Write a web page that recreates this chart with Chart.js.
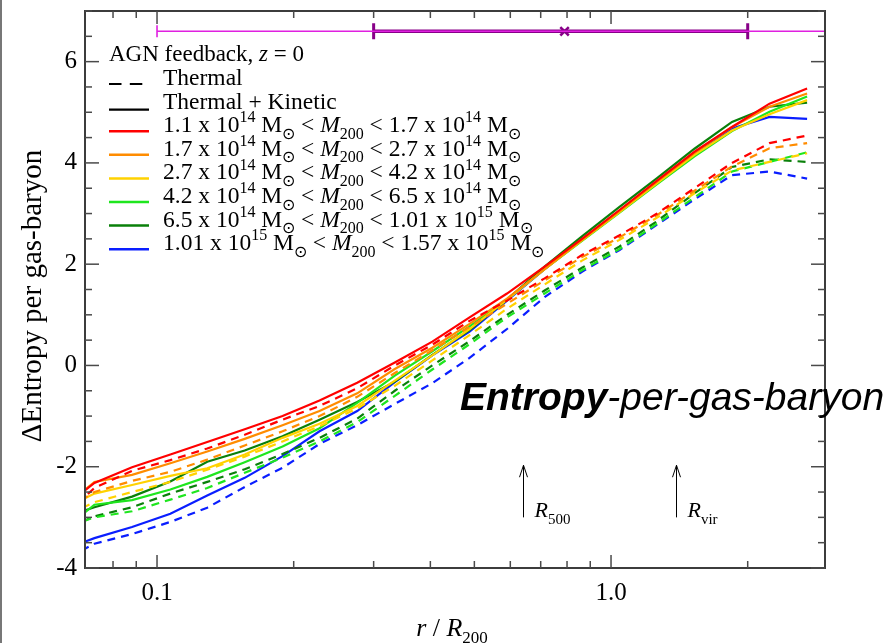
<!DOCTYPE html>
<html><head><meta charset="utf-8">
<script src="https://cdn.jsdelivr.net/npm/chart.js@4.4.1/dist/chart.umd.min.js"></script>
<style>html,body{margin:0;padding:0;background:#fff;}#wrap{width:893px;height:643px;position:relative;}canvas{display:block;}</style>
</head><body><div id="wrap"><canvas id="c" width="893" height="643"></canvas></div>
<script>
// ---- data ----
const radius = [0.0602,0.0728,0.0881,0.107,0.129,0.156,0.189,0.228,0.276,0.334,0.404,0.488,0.590,0.714,0.863,1.044,1.263,1.527,1.847,2.234,2.703];

// Thermal + Kinetic (solid)
const tkRed    = [-2.90,-2.32,-2.01,-1.76,-1.51,-1.26,-1.00,-0.69,-0.34,0.06,0.47,0.95,1.42,1.95,2.50,3.07,3.65,4.22,4.71,5.17,5.47];
const tkOrange = [-2.90,-2.30,-2.16,-1.93,-1.70,-1.45,-1.18,-0.90,-0.55,-0.07,0.35,0.82,1.32,1.90,2.48,3.05,3.63,4.20,4.71,5.11,5.37];
const tkYellow = [-2.90,-2.53,-2.36,-2.18,-2.03,-1.76,-1.43,-1.15,-0.80,-0.30,0.20,0.72,1.30,1.90,2.47,3.03,3.60,4.16,4.64,4.96,5.24];
const tkLime   = [-3.35,-2.75,-2.66,-2.45,-2.20,-1.91,-1.60,-1.24,-0.74,-0.20,0.28,0.77,1.30,1.90,2.46,3.02,3.58,4.13,4.63,5.01,5.31];
const tkGreen  = [-3.05,-2.80,-2.59,-2.29,-1.90,-1.68,-1.40,-1.07,-0.72,-0.32,0.21,0.70,1.30,1.95,2.55,3.13,3.70,4.28,4.81,5.11,5.19];
const tkBlue   = [-3.69,-3.41,-3.19,-2.93,-2.57,-2.22,-1.79,-1.30,-0.90,-0.33,0.20,0.67,1.28,1.90,2.48,3.05,3.62,4.18,4.68,4.91,4.87];

// Thermal only (dashed)
const thRed    = [-3.10,-2.42,-2.08,-1.87,-1.64,-1.37,-1.07,-0.80,-0.45,0.00,0.41,0.88,1.28,1.72,2.18,2.57,3.00,3.50,4.00,4.39,4.54];
const thOrange = [-2.95,-2.50,-2.28,-2.10,-1.86,-1.58,-1.30,-1.00,-0.62,-0.15,0.30,0.76,1.22,1.68,2.14,2.53,2.97,3.45,3.93,4.29,4.39];
const thYellow = [-3.05,-2.70,-2.50,-2.30,-2.06,-1.80,-1.50,-1.20,-0.85,-0.40,0.10,0.60,1.12,1.60,2.07,2.48,2.92,3.40,3.85,4.02,4.19];
const thLime   = [-3.25,-3.00,-2.88,-2.65,-2.42,-2.12,-1.82,-1.50,-1.12,-0.60,-0.08,0.42,0.95,1.42,1.88,2.30,2.80,3.32,3.83,4.02,4.21];
const thGreen  = [-3.30,-2.98,-2.80,-2.53,-2.30,-2.05,-1.75,-1.43,-1.05,-0.50,0.00,0.48,1.00,1.48,1.93,2.35,2.85,3.40,3.92,4.07,4.02];
const thBlue   = [-3.92,-3.52,-3.33,-3.09,-2.81,-2.40,-2.02,-1.55,-1.18,-0.76,-0.35,0.15,0.72,1.35,1.85,2.28,2.78,3.28,3.76,3.83,3.69];

// mass bins: [mantissa, exponent]
const binLow  = [['1.1',14],['1.7',14],['2.7',14],['4.2',14],['6.5',14],['1.01',15]];
const binHigh = [['1.7',14],['2.7',14],['4.2',14],['6.5',14],['1.01',15],['1.57',15]];

// axis ticks
const xRange = [0.0694, 2.96];
const xTickVals = [0.1, 1.0];
const xTickLabels = ['0.1', '1.0'];
const xMinorVals = [0.08,0.09,0.2,0.3,0.4,0.5,0.6,0.7,0.8,0.9,2];
const yTickVals = [-4,-2,0,2,4,6];
const yMinorStep = 0.5;

// top range bar
const barY = 6.6;
const thinRange = [0.1, 2.96];
const thickRange = [0.3, 2.0];
const barCenter = 0.79;

// R500 / Rvir markers
const markerR = [0.64, 1.39];
const markerSub = ['500', 'vir'];
const arrowY = [-3.0, -1.97];

// ---- styles ----
const colors = ['#ff0000', '#ff8c00', '#ffd200', '#1ee61e', '#0a800a', '#0a1eff'];
const tkSeries = [tkRed, tkOrange, tkYellow, tkLime, tkGreen, tkBlue];
const thSeries = [thRed, thOrange, thYellow, thLime, thGreen, thBlue];
const SERIF = '"Liberation Serif", "Times New Roman", serif';
const SANS = '"Liberation Sans", Arial, sans-serif';

const pts = arr => arr.map((v, i) => ({x: radius[i], y: v}));
const datasets = [];
thSeries.forEach((s, i) => datasets.push({data: pts(s), borderColor: colors[i], borderWidth: 2.2, borderDash: [8, 6], pointRadius: 0, tension: 0}));
tkSeries.forEach((s, i) => datasets.push({data: pts(s), borderColor: colors[i], borderWidth: 2.2, pointRadius: 0, tension: 0}));
datasets.push({data: [{x: thinRange[0], y: barY}, {x: thinRange[1], y: barY}], borderColor: '#e020e0', borderWidth: 1.6,
  pointStyle: 'line', pointRotation: 90, pointRadius: [6, 0], pointBorderColor: '#e020e0', pointBorderWidth: 1.6});
datasets.push({data: [{x: thickRange[0], y: barY}, {x: thickRange[1], y: barY}], borderColor: '#880088', borderWidth: 3.5,
  pointStyle: 'line', pointRotation: 90, pointRadius: 8, pointBorderColor: '#880088', pointBorderWidth: 3});
datasets.push({data: [{x: barCenter, y: barY}], showLine: false, borderColor: '#880088',
  pointStyle: 'crossRot', pointRadius: 6, pointBorderColor: '#880088', pointBorderWidth: 2.5});

function drawRich(ctx, x, y, parts, size) {
  for (const p of parts) {
    let fs = size, dy = 0;
    if (p.sup) { fs = Math.round(size * 0.66); dy = -size * 0.42; }
    if (p.sub) { fs = Math.round(size * 0.66); dy = size * 0.28; }
    ctx.font = (p.i ? 'italic ' : '') + fs + 'px ' + (p.f || SERIF);
    ctx.fillText(p.t, x, y + dy);
    x += ctx.measureText(p.t).width;
  }
  return x;
}
function richWidth(ctx, parts, size) {
  let w = 0;
  for (const p of parts) {
    let fs = (p.sup || p.sub) ? Math.round(size * 0.66) : size;
    ctx.font = (p.i ? 'italic ' : '') + fs + 'px ' + (p.f || SERIF);
    w += ctx.measureText(p.t).width;
  }
  return w;
}
function massParts(b) {
  return [{t: b[0] + ' x 10'}, {t: String(b[1]), sup: 1}, {t: ' M'}, {t: '\u2299', sub: 1}];
}

const overlay = {
  id: 'overlay',
  afterDraw(chart) {
    const {ctx, chartArea: a, scales: {x, y}} = chart;
    ctx.save();
    // frame
    ctx.strokeStyle = '#3c3c3c'; ctx.lineWidth = 2;
    ctx.strokeRect(a.left, a.top, a.right - a.left, a.bottom - a.top);
    // inward ticks
    ctx.lineWidth = 1.5; ctx.strokeStyle = '#4a4a4a';
    const seg = (x1, y1, x2, y2) => { ctx.beginPath(); ctx.moveTo(x1, y1); ctx.lineTo(x2, y2); ctx.stroke(); };
    xTickVals.concat(xMinorVals).forEach(v => {
      const px = x.getPixelForValue(v); const len = xTickVals.includes(v) ? 13 : 7;
      seg(px, a.bottom, px, a.bottom - len); seg(px, a.top, px, a.top + len);
    });
    for (let v = y.min; v <= y.max + 1e-9; v += yMinorStep) {
      const py = y.getPixelForValue(v); const len = yTickVals.includes(v) ? 14 : 7;
      seg(a.left, py, a.left + len, py); seg(a.right, py, a.right - len, py);
    }
    // left image edge line
    ctx.fillStyle = '#777'; ctx.fillRect(0, 0, 2, chart.height);
    ctx.fillStyle = '#000';
    ctx.textAlign = 'left'; ctx.textBaseline = 'alphabetic';
    // legend
    drawRich(ctx, 109, 61, [{t: 'AGN feedback, '}, {t: 'z', i: 1}, {t: ' = 0'}], 23);
    const rowY = i => 85 + 23.6 * i;
    ctx.strokeStyle = '#000'; ctx.lineWidth = 2.2;
    ctx.setLineDash([12.5, 8.3]); seg(109, rowY(0) - 1, 150, rowY(0) - 1); ctx.setLineDash([]);
    seg(109, rowY(1) + 1, 149, rowY(1) + 1);
    drawRich(ctx, 163, rowY(0), [{t: 'Thermal'}], 23.5);
    drawRich(ctx, 163, rowY(1), [{t: 'Thermal + Kinetic'}], 23.5);
    binLow.forEach((b, i) => {
      const yy = rowY(i + 2);
      ctx.strokeStyle = colors[i]; ctx.lineWidth = 2.5; seg(109, yy - 1, 149, yy - 1);
      ctx.fillStyle = '#000';
      const parts = massParts(b).concat([{t: ' < '}, {t: 'M', i: 1}, {t: '200', sub: 1}, {t: ' < '}], massParts(binHigh[i]));
      drawRich(ctx, 163, yy, parts, 23.5);
    });
    // R500 / Rvir arrows
    ctx.strokeStyle = '#000'; ctx.lineWidth = 1;
    markerR.forEach((r, i) => {
      const px = Math.round(x.getPixelForValue(r)) + 0.5;
      const y0 = y.getPixelForValue(arrowY[0]), y1 = y.getPixelForValue(arrowY[1]);
      seg(px, y0, px, y1);
      ctx.beginPath(); ctx.moveTo(px - 4, y1 + 12); ctx.lineTo(px, y1); ctx.lineTo(px + 4, y1 + 12); ctx.stroke();
      drawRich(ctx, px + 11, y0, [{t: 'R', i: 1}, {t: markerSub[i], sub: 1}], 22);
    });
    // big annotation text
    let tx = 460;
    ctx.font = 'italic bold 39px ' + SANS; ctx.fillText('Entropy', tx, 410);
    tx += ctx.measureText('Entropy').width;
    ctx.font = 'italic 39px ' + SANS; ctx.fillText('-per-gas-baryon', tx, 410);
    // axis titles
    const xt = [{t: 'r', i: 1}, {t: ' / '}, {t: 'R', i: 1}, {t: '200', sub: 1}];
    const w = richWidth(ctx, xt, 26);
    drawRich(ctx, 452 - w / 2, 636, xt, 26);
    ctx.save();
    ctx.translate(41, 296); ctx.rotate(-Math.PI / 2);
    ctx.textAlign = 'center'; ctx.font = '29px ' + SERIF;
    ctx.fillText('\u0394Entropy per gas-baryon', 0, 0);
    ctx.restore();
    ctx.restore();
  }
};

new Chart(document.getElementById('c'), {
  type: 'line',
  data: {datasets},
  options: {
    responsive: false, animation: false, devicePixelRatio: 1,
    layout: {padding: {top: 10, right: 68, bottom: 0, left: 0}},
    plugins: {legend: {display: false}, tooltip: {enabled: false}},
    scales: {
      x: {
        type: 'logarithmic', min: xRange[0], max: xRange[1],
        afterBuildTicks: s => { s.ticks = xTickVals.map(v => ({value: v})); },
        afterFit: s => { s.height = 75; s.paddingLeft = 0; s.paddingRight = 0; },
        ticks: {callback: (v, i) => xTickLabels[i], color: '#000', font: {family: SERIF, size: 25}, padding: 10, maxRotation: 0, autoSkip: false},
        grid: {display: false, drawTicks: false}, border: {display: false}
      },
      y: {
        type: 'linear', min: -4, max: 7,
        afterBuildTicks: s => { s.ticks = yTickVals.map(v => ({value: v})); },
        afterFit: s => { s.width = 85; s.paddingTop = 0; s.paddingBottom = 0; },
        ticks: {callback: v => String(v), color: '#000', font: {family: SERIF, size: 25}, padding: 8},
        grid: {display: false, drawTicks: false}, border: {display: false}
      }
    }
  },
  plugins: [overlay]
});
</script></body></html>
